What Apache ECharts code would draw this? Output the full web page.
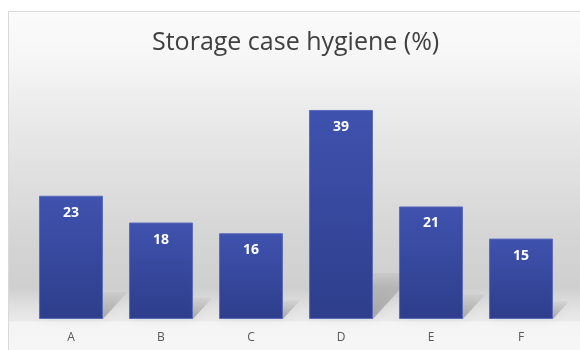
<!DOCTYPE html>
<html>
<head>
<meta charset="utf-8">
<script src="https://cdn.jsdelivr.net/npm/echarts@6/dist/echarts.min.js"></script>
<style>html,body{margin:0;padding:0;background:#fff}#c{width:580px;height:350px}</style>
</head>
<body>
<div id="c"></div>
<script>
var titleText = 'Storage case hygiene (%)';
var categories = ['A', 'B', 'C', 'D', 'E', 'F'];
var values = [23, 18, 16, 39, 21, 15];

var chart = echarts.init(document.getElementById('c'), null, {renderer: 'canvas'});

function shadowItem(params, api) {
  var v = api.value(1);
  var base = api.coord([api.value(0), 0]);
  var top = api.coord([api.value(0), v]);
  var size = api.size([1, 0]);
  var bw = size[0] * 0.71;
  var h = base[1] - top[1];
  var x0 = base[0] - bw / 2, x1 = base[0] + bw / 2;
  var dx = h * 0.2, dy = h * 0.22;
  return {
    type: 'polygon',
    shape: {points: [[x0, base[1]], [x1, base[1]], [x1 + dx, base[1] - dy], [x0 + dx, base[1] - dy]]},
    style: {
      fill: new echarts.graphic.LinearGradient(0, 1, 0, 0, [
        {offset: 0, color: 'rgba(0,0,0,0.26)'},
        {offset: 1, color: 'rgba(0,0,0,0.03)'}
      ]),
      shadowBlur: 10,
      shadowColor: 'rgba(0,0,0,0.25)'
    }
  };
}

chart.setOption({
  backgroundColor: '#ffffff',
  animation: false,
  graphic: [{
    type: 'rect',
    z: -10,
    silent: true,
    shape: {x: 8.5, y: 11.5, width: 580, height: 345},
    style: {
      fill: new echarts.graphic.LinearGradient(0, 0, 0, 1, [
        {offset: 0, color: '#fbfbfb'},
        {offset: 0.14, color: '#f6f6f6'},
        {offset: 0.26, color: '#ededed'},
        {offset: 0.47, color: '#e0e0e0'},
        {offset: 0.65, color: '#d5d5d5'},
        {offset: 0.80, color: '#cfcfcf'},
        {offset: 0.86, color: '#e2e2e2'},
        {offset: 0.895, color: '#eaeaea'},
        {offset: 0.90, color: '#f4f4f4'},
        {offset: 1, color: '#f7f7f7'}
      ]),
      stroke: '#d9d9d9',
      lineWidth: 1
    }
  }],
  title: {
    text: titleText,
    left: 147,
    top: 25,
    textStyle: {fontFamily: 'Open Sans', fontSize: 25, fontWeight: 'normal', color: '#404040'}
  },
  grid: {left: 26, right: 14, top: 104.6, bottom: 31, containLabel: false},
  xAxis: {
    type: 'category',
    data: categories,
    axisLine: {show: false},
    axisTick: {show: false},
    axisLabel: {fontFamily: 'Open Sans', fontSize: 12, color: '#595959', margin: 13}
  },
  yAxis: {
    type: 'value',
    min: 0,
    max: 40,
    show: false,
    splitLine: {show: false}
  },
  series: [{
    type: 'custom',
    renderItem: shadowItem,
    data: values.map(function (v, i) { return [i, v]; }),
    z: 1,
    silent: true
  }, {
    type: 'bar',
    data: values,
    barCategoryGap: '29%',
    z: 2,
    itemStyle: {
      color: new echarts.graphic.LinearGradient(0, 0, 0, 1, [
        {offset: 0, color: '#3f52ae'},
        {offset: 1, color: '#2e3e8c'}
      ]),
      borderColor: '#5a6bbd',
      borderWidth: 1
    },
    label: {
      show: true,
      position: 'insideTop',
      distance: 10,
      fontFamily: 'Open Sans',
      fontSize: 14,
      fontWeight: 'bold',
      color: '#ffffff'
    }
  }]
});
</script>
</body>
</html>
